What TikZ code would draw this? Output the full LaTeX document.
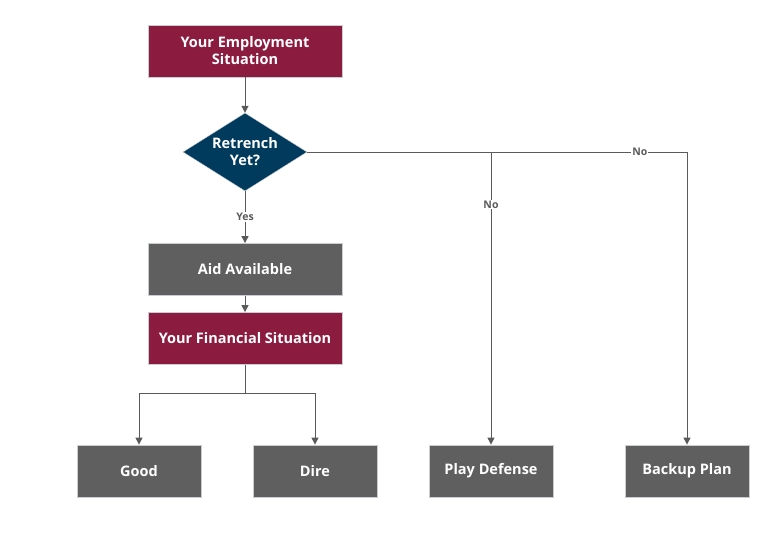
\documentclass[tikz,border=0pt]{standalone}
\usepackage{fontspec}
\setmainfont{Open Sans}
\usetikzlibrary{shapes.geometric,arrows.meta}
\definecolor{maroon}{HTML}{8B1C40}
\definecolor{navy}{HTML}{003A5C}
\definecolor{boxgrey}{HTML}{5F5F5F}
\definecolor{linegrey}{HTML}{5A5A5A}
\definecolor{edgegrey}{HTML}{C8CDD2}
\begin{document}
\begin{tikzpicture}[x=1pt,y=-1pt,
  box/.style={draw=edgegrey, line width=0.8pt, minimum width=#1, minimum height=52pt, inner sep=2pt, align=center, text=white, font=\fontsize{14.5}{17}\selectfont\bfseries},
  box/.default=124pt,
  wide/.style={box=194pt},
  conn/.style={draw=linegrey, line width=1pt, -{Triangle[length=7pt,width=7pt]}},
  seg/.style={draw=linegrey, line width=1pt},
  lab/.style={fill=white, inner sep=1pt, text=linegrey, font=\fontsize{10.5}{12}\selectfont\bfseries}]
\useasboundingbox (0,0) rectangle (777,543);
\node[wide, fill=maroon] (emp) at (245,51) {Your Employment\\Situation};
\node[diamond, draw=edgegrey, fill=navy, minimum width=124pt, minimum height=78pt, inner sep=0pt, aspect=1.6, align=center, text=white, font=\fontsize{14.5}{17}\selectfont\bfseries] (ret) at (245,152) {Retrench\\Yet?};
\node[wide, fill=boxgrey] (aid) at (245,269.5) {Aid Available};
\node[wide, fill=maroon] (fin) at (245,338.5) {Your Financial Situation};
\node[box, fill=boxgrey] (good) at (139,471) {Good};
\node[box, fill=boxgrey] (dire) at (315,471) {Dire};
\node[box, fill=boxgrey] (play) at (491,471) {Play Defense};
\node[box, fill=boxgrey] (back) at (687,471) {Backup Plan};
\coordinate (split) at (245,393);
\coordinate (jn) at (491,152);
\draw[conn] (emp) -- (ret);
\draw[conn] (ret) -- node[lab, pos=0.5] (yes) {Yes} (aid);
\draw[conn] (aid) -- (fin);
\draw[seg] (fin) -- (split);
\draw[conn] (split) -| (good);
\draw[conn] (split) -| (dire);
\draw[seg] (ret.east) -- (jn);
\draw[conn] (jn) -- node[lab, pos=0.18] (no1) {No} (play);
\draw[conn] (jn) -| node[lab, pos=0.38] (no2) {No} (back);
\end{tikzpicture}
\end{document}
